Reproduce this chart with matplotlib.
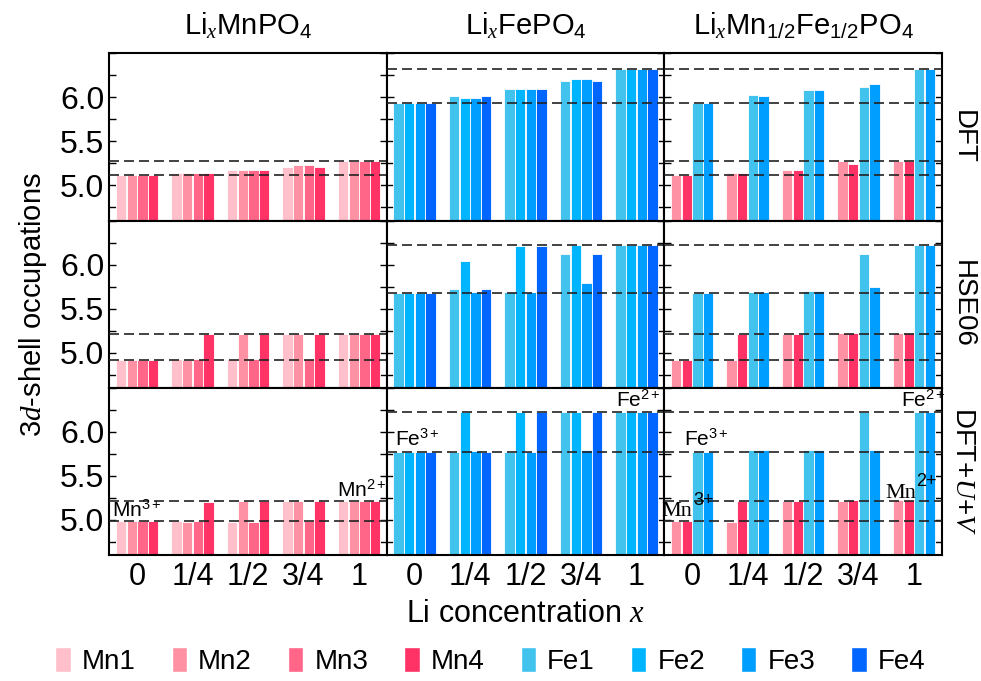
import numpy as np
import matplotlib
matplotlib.use("Agg")
import matplotlib.pyplot as plt
from matplotlib.patches import Patch
from matplotlib.ticker import MultipleLocator

plt.rcParams['font.family'] = ['Liberation Sans', 'DejaVu Sans']
plt.rcParams['mathtext.fontset'] = 'custom'
plt.rcParams['mathtext.rm'] = 'Liberation Sans'
plt.rcParams['mathtext.it'] = 'Liberation Serif:italic'

#################################################################################################################
#                                           D A T A
#################################################################################################################

x_labels = ["0", "1/4", "1/2", "3/4", "1"]

site_names = ["Mn1", "Mn2", "Mn3", "Mn4", "Fe1", "Fe2", "Fe3", "Fe4"]
site_colors = ["#ffc0cb", "#ff91a4", "#ff6687", "#ff3366",
               "#41c3ed", "#00b5ff", "#009fff", "#0066ff"]

compounds = [r"Li$_{x}$MnPO$_4$", r"Li$_{x}$FePO$_4$", r"Li$_{x}$Mn$_{1/2}$Fe$_{1/2}$PO$_4$"]
methods = ["DFT", "HSE06", r"DFT+$U$+$V$"]

# sites shown in each compound column
sites_mn = ["Mn1", "Mn2", "Mn3", "Mn4"]
sites_fe = ["Fe1", "Fe2", "Fe3", "Fe4"]
sites_mix = ["Mn2", "Mn4", "Fe1", "Fe3"]

# occupations, one row per site, columns = x
dft_mn = [[5.12, 5.143, 5.177, 5.207, 5.282],
          [5.12, 5.143, 5.177, 5.233, 5.282],
          [5.12, 5.143, 5.177, 5.233, 5.282],
          [5.12, 5.143, 5.177, 5.207, 5.282]]
dft_fe = [[5.932, 6.011, 6.09, 6.181, 6.317],
          [5.932, 5.992, 6.09, 6.211, 6.317],
          [5.932, 5.992, 6.09, 6.211, 6.317],
          [5.932, 6.011, 6.09, 6.181, 6.317]]
dft_mix = [[5.12, 5.135, 5.177, 5.271, 5.282],
           [5.12, 5.143, 5.177, 5.245, 5.282],
           [5.932, 6.023, 6.083, 6.12, 6.317],
           [5.932, 6.011, 6.083, 6.15, 6.317]]

hse_mn = [[4.913, 4.924, 4.924, 5.211, 5.211],
          [4.913, 4.913, 5.211, 5.211, 5.211],
          [4.913, 4.928, 4.928, 4.928, 5.211],
          [4.913, 5.211, 5.211, 5.211, 5.211]]
hse_fe = [[5.672, 5.725, 5.686, 6.125, 6.223],
          [5.672, 6.045, 6.215, 6.223, 6.223],
          [5.672, 5.686, 5.686, 5.796, 6.223],
          [5.672, 5.725, 6.215, 6.125, 6.223]]
hse_mix = [[4.913, 4.913, 5.211, 5.218, 5.218],
           [4.913, 5.211, 5.211, 5.218, 5.218],
           [5.672, 5.686, 5.695, 6.125, 6.223],
           [5.672, 5.686, 5.695, 5.743, 6.223]]

uv_mn = [[4.986, 4.99, 4.975, 5.216, 5.216],
         [4.986, 4.975, 5.21, 5.21, 5.216],
         [4.986, 4.99, 4.975, 4.99, 5.216],
         [4.986, 5.20, 5.21, 5.21, 5.216]]
uv_fe = [[5.775, 5.775, 5.775, 6.221, 6.221],
         [5.775, 6.221, 6.221, 6.228, 6.221],
         [5.775, 5.78, 5.775, 5.794, 6.221],
         [5.775, 5.775, 6.221, 6.228, 6.221]]
uv_mix = [[4.986, 4.975, 5.21, 5.21, 5.22],
          [4.986, 5.21, 5.21, 5.22, 5.22],
          [5.775, 5.79, 5.79, 6.221, 6.221],
          [5.775, 5.79, 5.79, 5.79, 6.221]]

# reference levels (dashed lines)
dft_mn_ref = [5.12, 5.282]
dft_fe_ref = [5.932, 6.317]
hse_mn_ref = [4.913, 5.211]
hse_fe_ref = [5.672, 6.223]
uv_mn_ref = [4.986, 5.216]
uv_fe_ref = [5.775, 6.221]

#################################################################################################################
#                                           P L O T
#################################################################################################################

panels = [
    [(sites_mn, dft_mn, dft_mn_ref), (sites_fe, dft_fe, dft_fe_ref), (sites_mix, dft_mix, dft_mn_ref + dft_fe_ref)],
    [(sites_mn, hse_mn, hse_mn_ref), (sites_fe, hse_fe, hse_fe_ref), (sites_mix, hse_mix, hse_mn_ref + hse_fe_ref)],
    [(sites_mn, uv_mn, uv_mn_ref), (sites_fe, uv_fe, uv_fe_ref), (sites_mix, uv_mix, uv_mn_ref + uv_fe_ref)],
]

color_of = dict(zip(site_names, site_colors))
xpos = np.arange(len(x_labels))
pitch = 0.193
width = 0.185

fig, axes = plt.subplots(3, 3, figsize=(9.81, 6.81), dpi=100, sharex=True, sharey=True)
plt.subplots_adjust(left=0.1114, right=0.960, top=0.9217, bottom=0.185, wspace=0, hspace=0)

for r in range(3):
    for c in range(3):
        ax = axes[r, c]
        sites, values, refs = panels[r][c]
        for k, (site, vals) in enumerate(zip(sites, values)):
            ax.bar(xpos + (k - 1.5) * pitch, vals, width=width, color=color_of[site],
                   edgecolor="white", linewidth=0.6, zorder=2)
        for y in refs:
            ax.axhline(y, color="#222222", ls=(0, (6, 3)), lw=1.2, zorder=3)
        ax.set_xlim(-0.5, 4.5)
        ax.set_ylim(4.6, 6.5)
        ax.yaxis.set_major_locator(MultipleLocator(0.5))
        ax.yaxis.set_minor_locator(MultipleLocator(0.25))
        ax.tick_params(axis="y", which="both", direction="in", left=True, right=True,
                       length=5, width=1, labelsize=23)
        ax.tick_params(axis="x", length=0, labelsize=22, pad=5)
        for s in ax.spines.values():
            s.set_linewidth(1.5)
        if r == 0:
            ax.set_title(compounds[c], fontsize=21, pad=13)
    axes[r, 2].text(1.028, 0.5, methods[r], rotation=-90, transform=axes[r, 2].transAxes,
                    va="center", ha="left", fontsize=20)

axes[0, 0].set_yticks([5.0, 5.5, 6.0])
axes[0, 0].set_yticklabels(["5.0", "5.5", "6.0"])
axes[2, 0].set_xticks(xpos)
axes[2, 0].set_xticklabels(x_labels)

# oxidation state labels
axes[2, 0].text(0, 5.03, r"Mn$^{3+}$", ha="center", fontsize=15)
axes[2, 0].text(4.04, 5.26, r"Mn$^{2+}$", ha="center", fontsize=15)
axes[2, 1].text(0.05, 5.84, r"Fe$^{3+}$", ha="center", fontsize=15)
axes[2, 1].text(4.04, 6.28, r"Fe$^{2+}$", ha="center", fontsize=15)
axes[2, 2].text(0.25, 5.84, r"Fe$^{3+}$", ha="center", fontsize=15)
axes[2, 2].text(4.17, 6.28, r"Fe$^{2+}$", ha="center", fontsize=15)
axes[2, 2].text(-0.27, 5.04, "Mn", ha="center", fontsize=16, family="Liberation Serif")
axes[2, 2].text(0.2, 5.22, "3+", ha="center", va="center", fontsize=13)
axes[2, 2].text(3.77, 5.25, "Mn", ha="center", fontsize=16, family="Liberation Serif")
axes[2, 2].text(4.22, 5.43, "2+", ha="center", va="center", fontsize=13)

fig.text(0.034, 0.553, r"$\mathit{3d}$-shell occupations", rotation=90, ha="center", va="center",
         fontsize=21)
fig.text(0.5357, 0.098, r"Li concentration $x$", ha="center", va="center", fontsize=22)

handles = [Patch(facecolor=col, edgecolor="white") for col in site_colors]
fig.legend(handles, site_names, loc="center", bbox_to_anchor=(0.5, 0.029), ncol=8, frameon=False,
           fontsize=20, handlelength=0.55, handleheight=1.0, handletextpad=0.4, columnspacing=1.3)

plt.savefig("out.png", dpi=100)
